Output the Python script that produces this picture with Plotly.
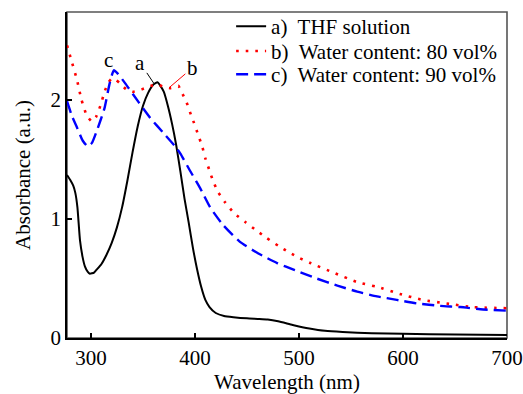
import plotly.graph_objects as go

# ---- data ----
wl_a = [277, 280, 283, 285, 287, 289.5, 292, 294.3, 297, 299, 303, 305, 310, 315, 320, 325, 330, 335, 340,
        345, 350, 355, 360, 364, 366, 370, 374, 378, 382, 386, 390, 394, 398, 402, 406, 410, 414, 420,
        428, 437, 450, 462, 470, 480, 494, 510, 525, 542, 570, 600, 650, 700]
abs_a = [1.37, 1.33, 1.28, 1.22, 1.10, 0.82, 0.68, 0.60, 0.555, 0.54, 0.55, 0.57, 0.62, 0.70, 0.80, 0.93,
         1.10, 1.32, 1.56, 1.78, 1.95, 2.06, 2.13, 2.15, 2.13, 2.07, 1.95, 1.80, 1.62, 1.40, 1.17, 0.97,
         0.76, 0.58, 0.43, 0.32, 0.26, 0.21, 0.185, 0.175, 0.165, 0.16, 0.155, 0.14, 0.11, 0.08, 0.06,
         0.05, 0.04, 0.035, 0.03, 0.025]

wl_b = [277, 282, 286.6, 291, 296, 301, 305, 309, 313.5, 317, 320, 324, 328, 334, 340, 346, 352, 358, 364,
        370, 376, 381, 384, 387, 392, 396, 399, 403, 407, 410, 413.5, 417, 422, 429, 437.6, 449, 459.7,
        469, 481, 490.5, 501, 511, 533, 556, 575, 597, 619, 642, 667, 700]
abs_b = [2.46, 2.31, 2.17, 2.00, 1.87, 1.82, 1.86, 1.95, 2.08, 2.15, 2.18, 2.17, 2.14, 2.09, 2.07, 2.08,
         2.10, 2.12, 2.13, 2.11, 2.10, 2.11, 2.12, 2.07, 1.98, 1.88, 1.81, 1.71, 1.61, 1.51, 1.42, 1.33,
         1.23, 1.14, 1.05, 0.97, 0.90, 0.84, 0.77, 0.72, 0.67, 0.63, 0.55, 0.47, 0.43, 0.37, 0.32, 0.29,
         0.26, 0.25]

wl_c = [277, 282, 286.6, 292, 297, 301, 306, 313, 318, 322, 326, 333, 346, 357, 370, 381, 386, 395, 405,
        414.5, 427, 443, 461, 479, 496, 517, 537, 556, 575, 594, 614, 636, 655, 677, 700]
abs_c = [1.99, 1.86, 1.77, 1.66, 1.61, 1.64, 1.75, 1.93, 2.14, 2.25, 2.22, 2.14, 1.98, 1.85, 1.72, 1.61,
         1.55, 1.41, 1.26, 1.10, 0.95, 0.81, 0.71, 0.63, 0.57, 0.50, 0.44, 0.39, 0.35, 0.32, 0.29, 0.27,
         0.26, 0.24, 0.23]

names = ["a)\u00a0 THF solution", "b)\u00a0 Water content: 80 vol%", "c)\u00a0 Water content: 90 vol%"]
x_ticks = [300, 400, 500, 600, 700]
y_ticks = [0, 1, 2]

FONT = "Liberation Serif"

fig = go.Figure()
fig.add_trace(go.Scatter(x=wl_a, y=abs_a, mode="lines", name=names[0], legend="legend",
                         line=dict(color="black", width=2, shape="spline", smoothing=0.5)))
fig.add_trace(go.Scatter(x=wl_b, y=abs_b, mode="lines", name=names[1], legend="legend2",
                         line=dict(color="#ff0000", width=2.6, dash="2.6px,7px", shape="spline", smoothing=0.5)))
fig.add_trace(go.Scatter(x=wl_c, y=abs_c, mode="lines", name=names[2], legend="legend3",
                         line=dict(color="#0000ff", width=2.4, dash="12px,6px", shape="spline", smoothing=0.5)))

# curve labels
fig.add_annotation(x=360.5, y=2.14, ax=347.5, ay=2.31, axref="x", ayref="y", text="a",
                   showarrow=True, arrowhead=0, arrowwidth=1, arrowcolor="black", standoff=0,
                   font=dict(family=FONT, size=21, color="black"))
fig.add_annotation(x=376, y=2.11, ax=397.5, ay=2.27, axref="x", ayref="y", text="b",
                   showarrow=True, arrowhead=0, arrowwidth=1, arrowcolor="#ff0000", standoff=0,
                   font=dict(family=FONT, size=21, color="black"))
fig.add_annotation(x=317, y=2.34, text="c", showarrow=False,
                   font=dict(family=FONT, size=21, color="black"))

# frame (top/right in dark gray)
fig.add_shape(type="rect", xref="paper", yref="paper", x0=0, y0=0, x1=1, y1=1,
              line=dict(color="#555555", width=1.6), layer="below")

leg_common = dict(x=0.373, xanchor="left", yanchor="top", bgcolor="rgba(0,0,0,0)",
                  font=dict(family=FONT, size=21, color="black"), itemwidth=30)

fig.update_layout(
    width=523, height=394,
    margin=dict(l=67, r=16, t=12, b=56, autoexpand=False),
    paper_bgcolor="white", plot_bgcolor="white",
    font=dict(family=FONT, size=21, color="black"),
    showlegend=True,
    legend=dict(y=1.018, **leg_common),
    legend2=dict(y=0.942, **leg_common),
    legend3=dict(y=0.871, **leg_common),
    xaxis=dict(range=[277, 700], tickvals=x_ticks, ticks="inside", ticklen=5, tickwidth=1.5,
               tickcolor="black", showline=True, linecolor="black", linewidth=1.6,
               showgrid=False, zeroline=False, automargin=False,
               title=dict(text="Wavelength (nm)", standoff=8, font=dict(family=FONT, size=21)),
               tickfont=dict(family=FONT, size=21, color="black")),
    yaxis=dict(range=[0, 2.74], tickvals=y_ticks, ticks="inside", ticklen=5, tickwidth=1.5,
               tickcolor="black", showline=True, linecolor="black", linewidth=1.6,
               showgrid=False, zeroline=False, automargin=False,
               title=dict(text="Absorbance (a.u.)", standoff=14, font=dict(family=FONT, size=21)),
               tickfont=dict(family=FONT, size=21, color="black")),
)

fig.write_html("out.html", config={"displayModeBar": False},
               post_script="document.body.style.margin='0';document.body.style.overflow='hidden';")
